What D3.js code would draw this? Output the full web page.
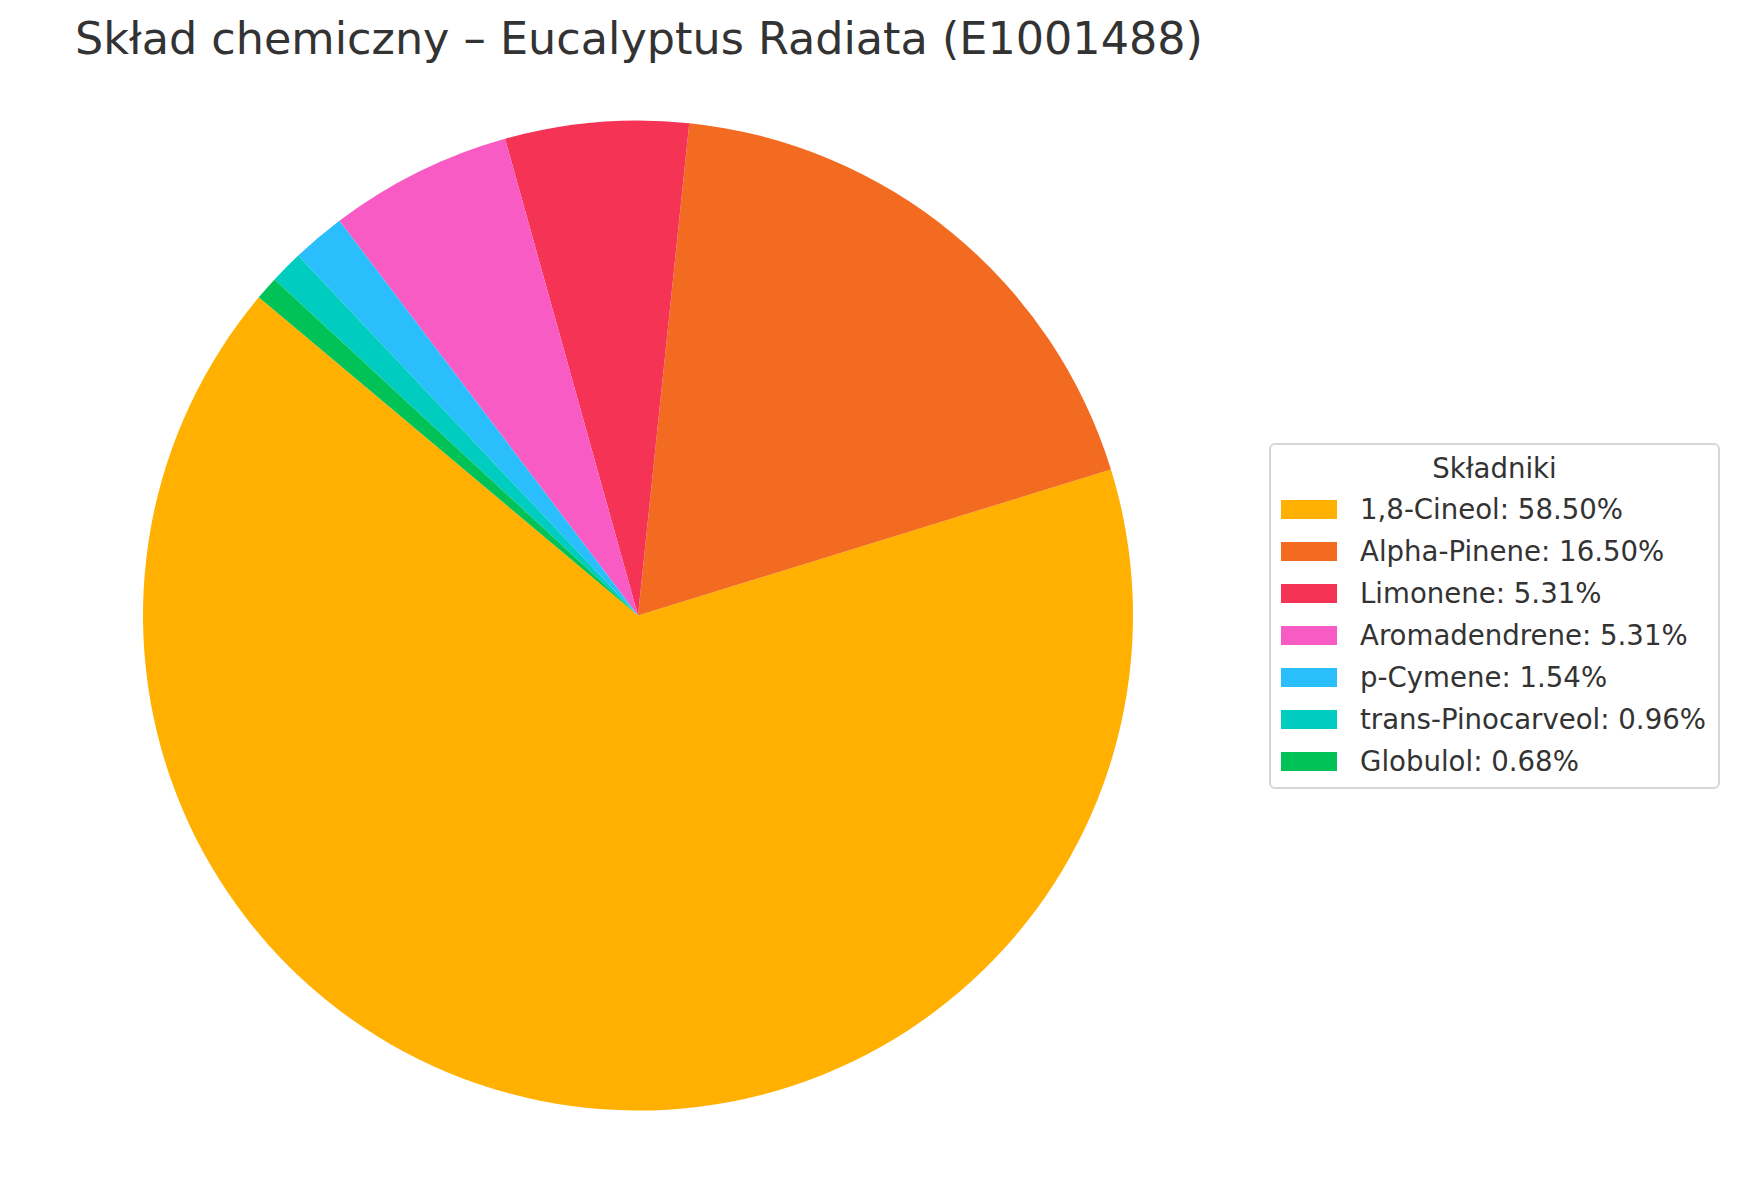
<!DOCTYPE html>
<html>
<head>
<meta charset="utf-8">
<script src="https://cdn.jsdelivr.net/npm/d3@7"></script>
<style>
  html, body { margin: 0; padding: 0; background: #fff; }
  svg { display: block; }
  text { font-family: "DejaVu Sans", sans-serif; fill: #333333; }
</style>
</head>
<body>
<script>
const categories = ["1,8-Cineol", "Alpha-Pinene", "Limonene", "Aromadendrene", "p-Cymene", "trans-Pinocarveol", "Globulol"];
const values = [58.50, 16.50, 5.31, 5.31, 1.54, 0.96, 0.68];
const colors = ["#FFB000", "#F26B21", "#F43355", "#F85BC3", "#2ABEFC", "#00CDC0", "#00C257"];
const chartTitle = "Skład chemiczny – Eucalyptus Radiata (E1001488)";
const legendTitle = "Składniki";

const W = 1738, H = 1180;
const svg = d3.select("body").append("svg").attr("width", W).attr("height", H);

// Title
svg.append("text")
  .attr("x", 75).attr("y", 54)
  .attr("font-size", 44.5)
  .text(chartTitle);

// Pie: start at 140° (math, ccw), counter-clockwise
const cx = 638, cy = 615.5, R = 495;
const start = (90 - 140) * Math.PI / 180;
const pie = d3.pie().sort(null).value(d => d.v)
  .startAngle(start).endAngle(start - 2 * Math.PI);
const data = categories.map((c, i) => ({ c, v: values[i], col: colors[i] }));
const arc = d3.arc().innerRadius(0).outerRadius(R);
const g = svg.append("g").attr("transform", `translate(${cx},${cy})`);
g.selectAll("path").data(pie(data)).join("path")
  .attr("d", arc)
  .attr("fill", d => d.data.col);

// Legend
const lx = 1270, ly = 444, lw = 449, lh = 344;
const lg = svg.append("g");
lg.append("rect")
  .attr("x", lx).attr("y", ly).attr("width", lw).attr("height", lh)
  .attr("rx", 5).attr("ry", 5)
  .attr("fill", "#fff").attr("stroke", "#d6d6d6").attr("stroke-width", 2);
lg.append("text")
  .attr("x", lx + lw / 2).attr("y", ly + 34)
  .attr("text-anchor", "middle").attr("font-size", 27.6)
  .text(legendTitle);
const rowY = d3.scaleBand().domain(categories).range([ly + 56, ly + 56 + 42 * categories.length]);
const rows = lg.selectAll("g.row").data(data).join("g").attr("class", "row")
  .attr("transform", d => `translate(${lx}, ${rowY(d.c)})`);
rows.append("rect")
  .attr("x", 11).attr("y", 0).attr("width", 56).attr("height", 19)
  .attr("fill", d => d.col);
rows.append("text")
  .attr("x", 90).attr("y", 19)
  .attr("font-size", 27.6)
  .text(d => `${d.c}: ${d.v.toFixed(2)}%`);
</script>
</body>
</html>
